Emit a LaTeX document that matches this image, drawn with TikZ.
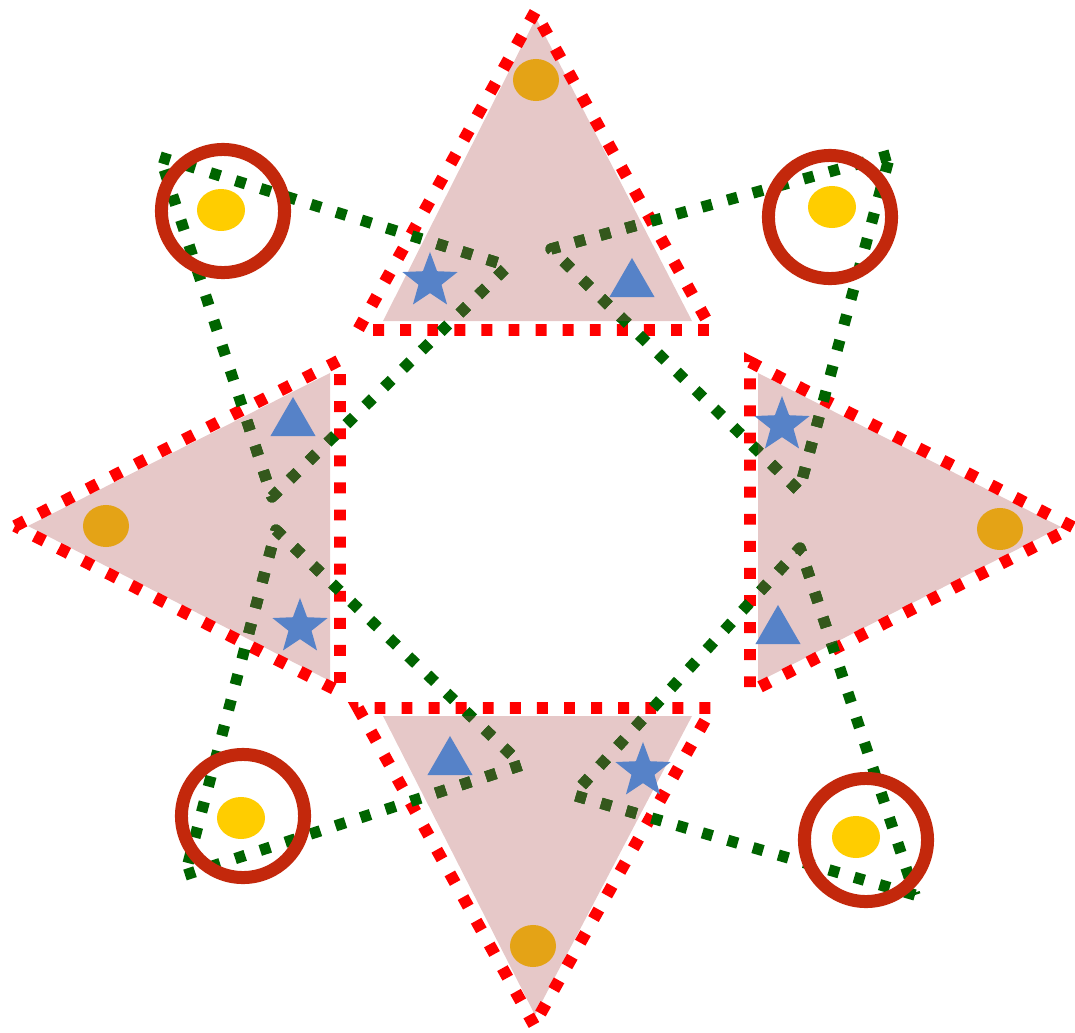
\documentclass[tikz,border=0pt]{standalone}
\usetikzlibrary{shapes.geometric}
\definecolor{petalPink}{RGB}{230,200,200}
\definecolor{rimRed}{RGB}{255,0,0}
\definecolor{linkGreen}{RGB}{0,100,0}
\definecolor{linkOlive}{RGB}{52,88,28}
\definecolor{haloRed}{RGB}{195,40,12}
\definecolor{markBlue}{RGB}{86,130,200}
\definecolor{dotOrange}{RGB}{228,163,22}
\definecolor{dotYellow}{RGB}{255,205,0}

\begin{document}
\begin{tikzpicture}[x=0.01cm, y=-0.01cm,
    petal/.style={fill=petalPink},
    rim/.style={draw=rimRed, line width=3.4pt, dash pattern=on 3.1pt off 4.6pt},
    link/.style={draw=linkGreen, line width=3.2pt, dash pattern=on 3.0pt off 4.5pt, line join=round},
    starmark/.style={star, star points=5, star point ratio=2.4, fill=markBlue,
                     minimum size=0.58cm, inner sep=0pt},
    trimark/.style={regular polygon, regular polygon sides=3, fill=markBlue,
                    minimum size=0.52cm, inner sep=0pt},
    apexdot/.style={ellipse, fill=dotOrange, minimum width=0.46cm, minimum height=0.42cm, inner sep=0pt},
    sundot/.style={ellipse, fill=dotYellow, minimum width=0.48cm, minimum height=0.42cm, inner sep=0pt},
    halo/.style={circle, draw=haloRed, line width=3.7pt, minimum size=1.23cm, inner sep=0pt}
  ]
  \useasboundingbox (0,0) rectangle (1075,1033);

  % petals
  \coordinate (top1) at (536,18);   \coordinate (top2) at (383,321);  \coordinate (top3) at (692,321);
  \coordinate (lft1) at (28,526);   \coordinate (lft2) at (330,373);  \coordinate (lft3) at (330,681);
  \coordinate (rgt1) at (1061,527); \coordinate (rgt2) at (758,373);  \coordinate (rgt3) at (758,682);
  \coordinate (bot1) at (535,1015); \coordinate (bot2) at (383,716);  \coordinate (bot3) at (692,716);
  \foreach \p in {top,lft,rgt,bot}
    \fill[petal] (\p1) -- (\p2) -- (\p3) -- cycle;

  \draw[rim] (535,12) -- (358,330) -- (712,330) -- cycle;
  \draw[rim] (15,526) -- (340,360) -- (340,692) -- cycle;
  \draw[rim] (1073,527) -- (750,362) -- (750,692) -- cycle;
  \draw[rim] (534,1025) -- (358,708) -- (712,708) -- cycle;

  % links
  \coordinate (tlA) at (160,157); \coordinate (tlB) at (508,266); \coordinate (tlC) at (272,497);
  \coordinate (trA) at (890,155); \coordinate (trB) at (551,249); \coordinate (trC) at (799,491);
  \coordinate (blA) at (185,875); \coordinate (blB) at (522,765); \coordinate (blC) at (276,530);
  \coordinate (brA) at (915,895); \coordinate (brB) at (573,795); \coordinate (brC) at (800,548);
  \foreach \c in {tl,tr,bl,br}
    \draw[link] (\c A) -- (\c B) -- (\c C) -- cycle;
  \begin{scope}
    \clip (top1) -- (top2) -- (top3) -- cycle (lft1) -- (lft2) -- (lft3) -- cycle
          (rgt1) -- (rgt2) -- (rgt3) -- cycle (bot1) -- (bot2) -- (bot3) -- cycle;
    \foreach \c in {tl,tr,bl,br}
      \draw[link, draw=linkOlive] (\c A) -- (\c B) -- (\c C) -- cycle;
  \end{scope}

  % marks
  \node[apexdot] (topDot) at (536,80) {};
  \node[apexdot] (lftDot) at (106,526) {};
  \node[apexdot] (rgtDot) at (1000,529) {};
  \node[apexdot] (botDot) at (533,946) {};

  \node[starmark] (topStar) at (430,281) {};
  \node[trimark]  (topTri)  at (632,284) {};
  \node[trimark]  (lftTri)  at (293,423) {};
  \node[starmark] (lftStar) at (300,627) {};
  \node[starmark] (rgtStar) at (782,425) {};
  \node[trimark]  (rgtTri)  at (778,631) {};
  \node[trimark]  (botTri)  at (450,762) {};
  \node[starmark] (botStar) at (643,771) {};

  \node[sundot] (tlSun) at (221,210) {};
  \node[sundot] (trSun) at (832,207) {};
  \node[sundot] (blSun) at (241,818) {};
  \node[sundot] (brSun) at (856,837) {};
  \node[halo] (tlHalo) at (223,211) {};
  \node[halo] (trHalo) at (830,217) {};
  \node[halo] (blHalo) at (243,816) {};
  \node[halo] (brHalo) at (866,840) {};
\end{tikzpicture}
\end{document}
